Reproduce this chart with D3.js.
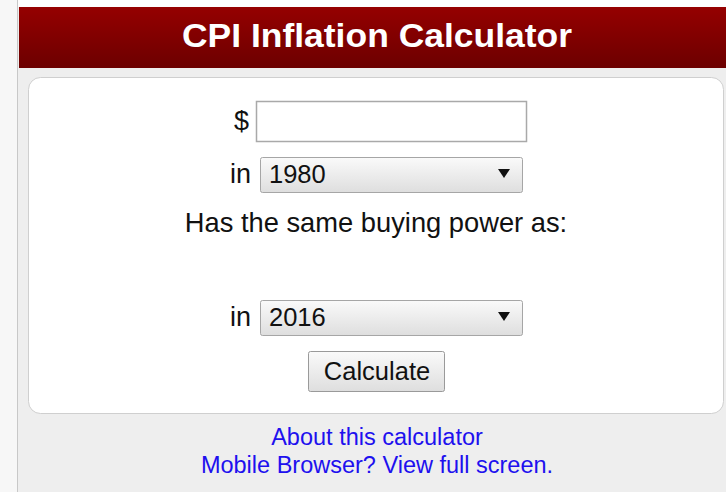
<!DOCTYPE html>
<html>
<head>
<meta charset="utf-8">
<script src="https://cdn.jsdelivr.net/npm/d3@7"></script>
<style>
  body { margin: 0; background: #fdfdfd; }
  svg { display: block; font-family: "Liberation Sans", Arial, sans-serif; }
</style>
</head>
<body>
<div id="calc"></div>
<script>
// texts shown on the calculator
var title = "CPI Inflation Calculator";
var rowNames = ["amount", "from", "prompt", "result", "to", "button"];
var fieldLabels = ["$", "in", "in"];
var years = ["1980", "2016"];
var prompt = "Has the same buying power as:";
var buttonLabel = "Calculate";
var links = ["About this calculator", "Mobile Browser? View full screen."];

var width = 726, height = 492;
var cx = 376;

var svg = d3.select("#calc").append("svg")
  .attr("width", width)
  .attr("height", height);

var defs = svg.append("defs");

var hdr = defs.append("linearGradient").attr("id", "hdr")
  .attr("x1", 0).attr("y1", 0).attr("x2", 0).attr("y2", 1);
hdr.append("stop").attr("offset", "0%").attr("stop-color", "#950000");
hdr.append("stop").attr("offset", "100%").attr("stop-color", "#6c0000");

var btn = defs.append("linearGradient").attr("id", "btn")
  .attr("x1", 0).attr("y1", 0).attr("x2", 0).attr("y2", 1);
btn.append("stop").attr("offset", "0%").attr("stop-color", "#fafafa");
btn.append("stop").attr("offset", "100%").attr("stop-color", "#dedede");

// row centres of the form
var rowY = d3.scaleOrdinal()
  .domain(rowNames)
  .range([121, 175, 224, 270, 318, 371]);

// page frame
svg.append("rect")
  .attr("x", 0).attr("y", 0).attr("width", 17).attr("height", height)
  .attr("fill", "#f7f7f7");
svg.append("rect")
  .attr("x", 18).attr("y", 7).attr("width", width - 18).attr("height", height - 7)
  .attr("fill", "#eeeeee");
svg.append("line")
  .attr("x1", 17.5).attr("x2", 17.5).attr("y1", 0).attr("y2", height)
  .attr("stroke", "#c8c8c8");

// header bar
svg.append("rect")
  .attr("x", 19).attr("y", 7).attr("width", width - 19).attr("height", 61)
  .attr("fill", "url(#hdr)");
svg.append("text")
  .attr("x", cx + 1).attr("y", 47)
  .attr("text-anchor", "middle")
  .attr("fill", "#ffffff")
  .style("font-size", "33px")
  .style("font-weight", "bold")
  .attr("textLength", 390)
  .attr("lengthAdjust", "spacingAndGlyphs")
  .text(title);

// white form panel
svg.append("rect")
  .attr("x", 28.5).attr("y", 77.5).attr("width", 695).attr("height", 336)
  .attr("rx", 12)
  .attr("fill", "#ffffff")
  .attr("stroke", "#cfcfcf");

// $ amount input
svg.append("text")
  .attr("x", 249).attr("y", rowY("amount") + 9)
  .attr("text-anchor", "end")
  .style("font-size", "27px")
  .attr("fill", "#111")
  .text(fieldLabels[0]);
svg.append("rect")
  .attr("x", 256.5).attr("y", rowY("amount") - 19.5)
  .attr("width", 270).attr("height", 40)
  .attr("fill", "#fff")
  .attr("stroke", "#a9a9a9")
  .attr("stroke-width", 1.5);

// year selects
var selRows = ["from", "to"];
var sel = svg.selectAll("g.sel")
  .data(years)
  .enter().append("g")
  .attr("class", "sel")
  .attr("transform", function(d, i) { return "translate(0," + rowY(selRows[i]) + ")"; });

sel.append("text")
  .attr("x", 251).attr("y", 8)
  .attr("text-anchor", "end")
  .style("font-size", "27px")
  .attr("fill", "#111")
  .text(function(d, i) { return fieldLabels[i + 1]; });

sel.append("rect")
  .attr("x", 260.5).attr("y", -17.5)
  .attr("width", 262).attr("height", 35)
  .attr("rx", 2)
  .attr("fill", "url(#btn)")
  .attr("stroke", "#a6a6a6");

sel.append("text")
  .attr("x", 269).attr("y", 8)
  .style("font-size", "25.5px")
  .attr("fill", "#111")
  .text(function(d) { return d; });

sel.append("path")
  .attr("d", "M498,-6 L510,-6 L504,3 Z")
  .attr("fill", "#111");

// prompt line
svg.append("text")
  .attr("x", cx).attr("y", rowY("prompt") + 8)
  .attr("text-anchor", "middle")
  .style("font-size", "27.3px")
  .attr("fill", "#111")
  .text(prompt);

// calculate button
svg.append("rect")
  .attr("x", 308.5).attr("y", rowY("button") - 19.5)
  .attr("width", 136).attr("height", 40)
  .attr("rx", 2)
  .attr("fill", "url(#btn)")
  .attr("stroke", "#9a9a9a");
svg.append("text")
  .attr("x", 377).attr("y", rowY("button") + 9)
  .attr("text-anchor", "middle")
  .style("font-size", "25.5px")
  .attr("fill", "#111")
  .text(buttonLabel);

// links under the panel
var linkY = d3.scalePoint().domain(links).range([445, 473]);
svg.selectAll("text.link")
  .data(links)
  .enter().append("text")
  .attr("class", "link")
  .attr("x", cx + 1)
  .attr("y", function(d) { return linkY(d); })
  .attr("text-anchor", "middle")
  .style("font-size", "23.5px")
  .attr("fill", "#2010ee")
  .text(function(d) { return d; });
</script>
</body>
</html>
